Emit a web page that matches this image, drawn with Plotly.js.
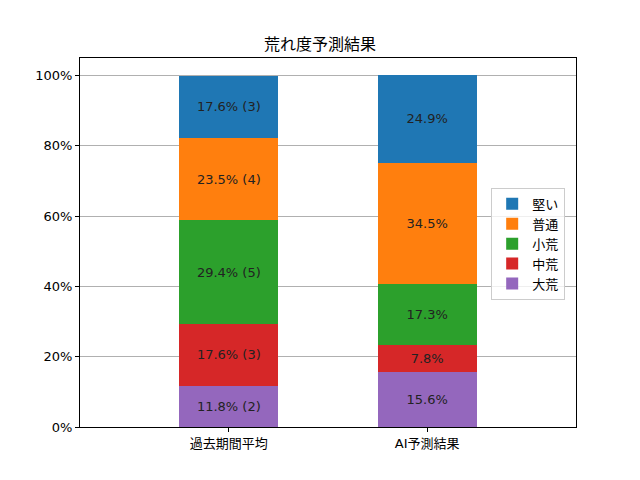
<!DOCTYPE html>
<html>
<head>
<meta charset="utf-8">
<script src="https://cdn.plot.ly/plotly-3.0.1.min.js"></script>
<style>
    body { margin: 0; }
    #plot { width: 640px; height: 480px; }
</style>
</head>
<body>
<div id="plot"></div>
<script>
// stacking order bottom -> top
let categories = ['過去期間平均', 'AI予測結果'];
let levels = ['大荒', '中荒', '小荒', '普通', '堅い'];
let colours = ['#9467bd', '#d62728', '#2ca02c', '#ff7f0e', '#1f77b4'];

// percent per level, for each bar
let pastPct = [11.8, 17.6, 29.4, 23.5, 17.6];
let pastCount = [2, 3, 5, 4, 3];
let aiPct = [15.6, 7.8, 17.3, 34.5, 24.9];

let font = 'DejaVu Sans, Noto Sans CJK JP, sans-serif';

let data = [];
levels.forEach((lv, i) => {
    data.push({
        type: 'bar',
        name: lv,
        x: [0, 1],
        y: [pastPct[i], aiPct[i]],
        width: 0.5,
        marker: {color: colours[i], line: {width: 0}},
        text: [pastPct[i].toFixed(1) + '% (' + pastCount[i] + ')', aiPct[i].toFixed(1) + '%'],
        textposition: 'inside',
        insidetextanchor: 'middle',
        textangle: 0,
        textfont: {family: font, size: 13, color: '#222'},
        hoverinfo: 'skip'
    });
});

let layout = {
    width: 640,
    height: 480,
    barmode: 'stack',
    paper_bgcolor: 'white',
    plot_bgcolor: 'white',
    margin: {l: 80, r: 64, t: 58, b: 53, pad: 0},
    font: {family: font, size: 13, color: 'black'},
    title: {
        text: '荒れ度予測結果',
        font: {family: font, size: 16, color: 'black'},
        x: 0.5,
        xanchor: 'center',
        y: 1 - 44 / 480,
        yanchor: 'middle'
    },
    xaxis: {
        range: [-0.75, 1.75],
        tickvals: [0, 1],
        ticktext: categories,
        showgrid: false,
        zeroline: false,
        showline: true,
        linecolor: 'black',
        linewidth: 1,
        mirror: true,
        ticks: 'outside',
        ticklen: 4,
        tickcolor: 'black',
        tickfont: {family: font, size: 13, color: 'black'}
    },
    yaxis: {
        range: [0, 105],
        tickvals: [0, 20, 40, 60, 80, 100],
        ticktext: ['0%', '20%', '40%', '60%', '80%', '100%'],
        showgrid: true,
        gridcolor: '#b0b0b0',
        gridwidth: 1,
        zeroline: false,
        showline: true,
        linecolor: 'black',
        linewidth: 1,
        mirror: true,
        ticks: 'outside',
        ticklen: 4,
        tickcolor: 'black',
        tickfont: {family: font, size: 13, color: 'black'}
    },
    showlegend: true,
    legend: {
        x: 0.829,
        y: 0.648,
        xanchor: 'left',
        yanchor: 'top',
        traceorder: 'reversed',
        bgcolor: 'rgba(255,255,255,0.8)',
        bordercolor: '#cccccc',
        borderwidth: 1,
        font: {family: font, size: 13, color: 'black'}
    }
};

Plotly.newPlot('plot', data, layout, {displayModeBar: false});
</script>
</body>
</html>
